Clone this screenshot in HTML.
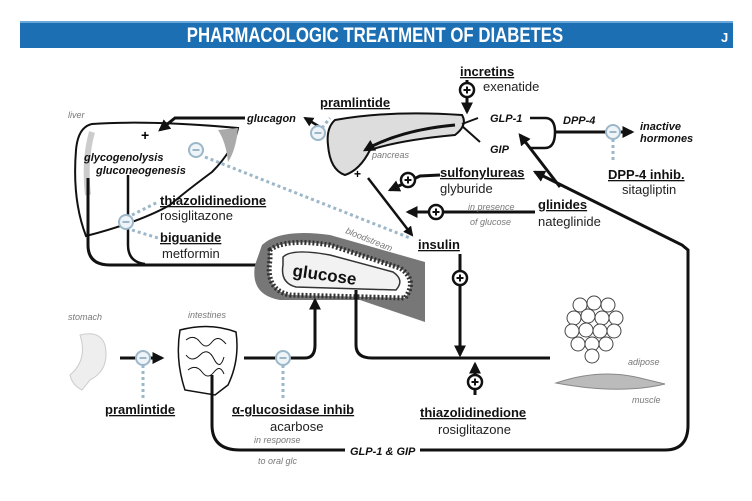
<!DOCTYPE html>
<html><head><meta charset="utf-8"><style>
html,body{margin:0;padding:0;background:#fff;}
svg{display:block;}
text{font-family:"Liberation Sans",sans-serif;}
.b{font-weight:bold;text-decoration:underline;font-size:13px;fill:#111;}
.n{font-size:13px;fill:#222;}
.i{font-style:italic;font-size:9px;fill:#777;}
.bi{font-style:italic;font-weight:bold;font-size:11px;fill:#111;}
.k{stroke:#111;stroke-width:3;fill:none;}
.d{stroke:#9bb7c9;stroke-width:3;stroke-dasharray:3,3;fill:none;}
</style></head><body>
<svg width="752" height="501" viewBox="0 0 752 501" xmlns="http://www.w3.org/2000/svg">
<defs>
<marker id="a" viewBox="0 0 10 10" refX="8" refY="5" markerWidth="4" markerHeight="4" orient="auto"><path d="M0,0L10,5L0,10z" fill="#111"/></marker>
<g id="mi"><circle r="7" fill="#eef4f8" stroke="#9bb7c9" stroke-width="2"/><line x1="-3.5" y1="0" x2="3.5" y2="0" stroke="#9bb7c9" stroke-width="2"/></g>
<g id="pl"><circle r="7" fill="#fff" stroke="#111" stroke-width="2.5"/><path d="M-3.5,0H3.5M0,-3.5V3.5" stroke="#111" stroke-width="2"/></g>
</defs>
<rect x="20" y="21" width="713" height="27" fill="#1d6fb3"/>
<rect x="20" y="21" width="713" height="2" fill="#69a8d8"/>
<text x="375" y="42" text-anchor="middle" fill="#fff" font-weight="bold" font-size="21" transform="translate(375,0) scale(0.8,1) translate(-375,0)">PHARMACOLOGIC TREATMENT OF DIABETES</text>
<text x="721" y="42" fill="#fff" font-weight="bold" font-size="13">J</text>

<!-- liver -->
<path d="M92,124 Q150,120 238,128 Q234,150 212,172 Q185,192 170,205 Q140,222 86,236 Q72,200 76,150 Q78,127 92,124z" fill="#fff" stroke="#111" stroke-width="2"/>
<path d="M92,132 Q84,160 88,195" stroke="#ccc" stroke-width="6" fill="none"/>
<path d="M218,130 L238,128 Q236,150 228,162 Q226,142 218,130z" fill="#aaa"/>
<text x="68" y="118" class="i">liver</text>
<text x="141" y="140" font-size="14" font-weight="bold">+</text>
<text x="84" y="161" class="bi" font-size="10">glycogenolysis</text>
<text x="96" y="174" class="bi" font-size="10">gluconeogenesis</text>
<path d="M245,118 L175,118 L160,130" class="k" marker-end="url(#a)"/>
<text x="247" y="122" class="bi" font-size="10">glucagon</text>
<path d="M88,178 V245 Q88,265 110,265 H285" class="k" marker-end="url(#a)"/>
<path d="M128,175 V245 Q128,262 145,264" stroke="#111" stroke-width="2.5" fill="none"/>

<!-- pancreas -->
<path d="M335,120 Q390,110 462,115 Q468,125 455,135 Q400,140 370,150 Q360,170 345,175 Q330,170 328,145 Q326,128 335,120z" fill="#ddd" stroke="#111" stroke-width="2"/>
<text x="372" y="158" class="i">pancreas</text>
<path d="M455,125 Q400,130 365,150" class="k" marker-end="url(#a)"/>
<text x="354" y="178" font-size="12" font-weight="bold">+</text>
<path d="M320,127 L305,118" stroke="#111" stroke-width="2.5" marker-end="url(#a)"/>
<use href="#mi" x="318" y="133"/>
<path d="M322,128 L330,118" class="d"/>
<text x="320" y="107" class="b">pramlintide</text>

<!-- GLP-1 / GIP -->
<text x="460" y="76" class="b">incretins</text>
<text x="483" y="91" class="n">exenatide</text>
<line x1="467" y1="80" x2="467" y2="112" class="k" marker-end="url(#a)"/>
<use href="#pl" x="467" y="90"/>
<path d="M462,124 L478,118 M462,126 L480,142" stroke="#111" stroke-width="2"/>
<text x="490" y="122" class="bi" font-size="13">GLP-1</text>
<text x="490" y="153" class="bi" font-size="13">GIP</text>
<path d="M530,118 H545 Q555,118 555,132 Q555,148 545,148 H530" stroke="#111" stroke-width="2.5" fill="none"/>
<path d="M555,132 H632" class="k" marker-end="url(#a)"/>
<text x="563" y="124" class="bi">DPP-4</text>
<use href="#mi" x="613" y="132"/>
<path d="M613,139 V160" class="d"/>
<text x="640" y="130" class="bi" font-size="10">inactive</text>
<text x="640" y="142" class="bi" font-size="10">hormones</text>
<text x="608" y="179" class="b">DPP-4 inhib.</text>
<text x="622" y="194" class="n">sitagliptin</text>

<!-- sulfonylureas / glinides -->
<path d="M440,175 L420,176 L390,190" class="k" stroke-width="5" marker-end="url(#a)"/>
<use href="#pl" x="408" y="180"/>
<text x="440" y="177" class="b">sulfonylureas</text>
<text x="440" y="193" class="n">glyburide</text>
<path d="M535,212 H408" class="k" stroke-width="5" marker-end="url(#a)"/>
<use href="#pl" x="436" y="212"/>
<text x="468" y="210" class="i" font-size="8">in presence</text>
<text x="470" y="225" class="i" font-size="8">of glucose</text>
<text x="538" y="209" class="b">glinides</text>
<text x="538" y="226" class="n">nateglinide</text>
<path d="M368,178 L412,235" stroke="#111" stroke-width="2.5" marker-end="url(#a)"/>

<!-- liver inhibitors -->
<use href="#mi" x="196" y="150"/>
<path d="M205,157 L410,238" class="d"/>
<use href="#mi" x="126" y="222"/>
<path d="M132,215 L158,202 M132,230 L158,238" class="d"/>
<text x="160" y="205" class="b">thiazolidinedione</text>
<text x="160" y="220" class="n">rosiglitazone</text>
<text x="160" y="242" class="b">biguanide</text>
<text x="162" y="258" class="n">metformin</text>

<!-- bloodstream -->
<path d="M262,245 Q280,228 330,235 L425,262 L425,322 L360,300 L280,300 Q250,295 255,265z" fill="#777"/>
<path d="M270,250 Q285,238 330,245 L400,268 Q418,280 405,298 L290,295 Q265,290 270,260z" fill="#fff" stroke="#333" stroke-width="5" stroke-dasharray="2,2"/>
<path d="M283,257 Q292,248 330,255 L393,272 Q405,280 396,290 L296,287 Q280,283 283,265z" fill="#f2f2f2" stroke="#333" stroke-width="1.5"/>
<text x="345" y="233" class="i" transform="rotate(22 345 233)">bloodstream</text>
<text x="292" y="276" font-size="17" font-weight="bold" fill="#111" transform="rotate(8 292 276)">glucose</text>

<!-- insulin -->
<text x="418" y="249" class="b">insulin</text>
<line x1="460" y1="254" x2="460" y2="355" class="k" stroke-width="3.5" marker-end="url(#a)"/>
<use href="#pl" x="460" y="278"/>

<!-- bottom -->
<text x="68" y="320" class="i">stomach</text>
<text x="188" y="318" class="i">intestines</text>
<path d="M80,335 Q100,330 105,345 Q110,370 90,380 L82,390 Q72,385 70,375 Q88,360 80,335z" fill="#eee" stroke="#ccc"/>
<path d="M180,330 Q210,322 236,332 Q240,360 228,385 L215,395 L185,390 Q175,360 180,330z" fill="#fff" stroke="#111" stroke-width="1.5"/>
<path d="M186,340 q8,-6 14,2 t12,0 t14,2 M186,355 q6,8 14,0 t14,4 t10,-2 M188,370 q8,-6 14,2 t12,0 t10,2" stroke="#111" stroke-width="1" fill="none"/>
<path d="M120,358 H162" class="k" marker-end="url(#a)"/>
<use href="#mi" x="143" y="358"/>
<path d="M143,365 V400" class="d"/>
<text x="105" y="414" class="b">pramlintide</text>
<path d="M244,358 H305 Q315,358 315,345 V300" class="k" marker-end="url(#a)"/>
<use href="#mi" x="283" y="358"/>
<path d="M283,365 V400" class="d"/>
<text x="232" y="414" class="b">α-glucosidase inhib</text>
<text x="270" y="431" class="n">acarbose</text>
<path d="M356,290 V345 Q356,358 372,358 H550" class="k"/>
<line x1="475" y1="395" x2="475" y2="364" class="k" stroke-width="3.5" marker-end="url(#a)"/>
<use href="#pl" x="475" y="382"/>
<text x="420" y="417" class="b">thiazolidinedione</text>
<text x="438" y="434" class="n">rosiglitazone</text>

<!-- adipose cells -->
<g fill="#fff" stroke="#444" stroke-width="1">
<circle cx="580" cy="305" r="7"/><circle cx="594" cy="303" r="7"/><circle cx="608" cy="305" r="7"/><circle cx="574" cy="318" r="7"/><circle cx="588" cy="316" r="7"/><circle cx="602" cy="318" r="7"/><circle cx="616" cy="318" r="7"/><circle cx="572" cy="331" r="7"/><circle cx="586" cy="330" r="7"/><circle cx="600" cy="331" r="7"/><circle cx="614" cy="331" r="7"/><circle cx="578" cy="344" r="7"/><circle cx="592" cy="344" r="7"/><circle cx="606" cy="344" r="7"/><circle cx="592" cy="356" r="7"/></g>
<text x="628" y="365" class="i">adipose</text>
<path d="M556,383 Q600,368 640,378 L665,384 Q620,395 556,383z" fill="#bbb" stroke="#888"/>
<text x="632" y="403" class="i">muscle</text>

<!-- GLP-1 & GIP loop -->
<path d="M212,375 V425 Q212,450 240,450 H345 M420,450 H665 Q688,450 688,425 V250 L682,245 L535,172" class="k" stroke-width="2.5" marker-end="url(#a)"/>
<path d="M560,187 L520,135" class="k" stroke-width="2.5" marker-end="url(#a)"/>
<text x="350" y="455" class="bi" font-size="12">GLP-1 &amp; GIP</text>
<text x="254" y="443" class="i" font-size="8">in response</text>
<text x="258" y="464" class="i" font-size="8">to oral glc</text>
</svg>
</body></html>
